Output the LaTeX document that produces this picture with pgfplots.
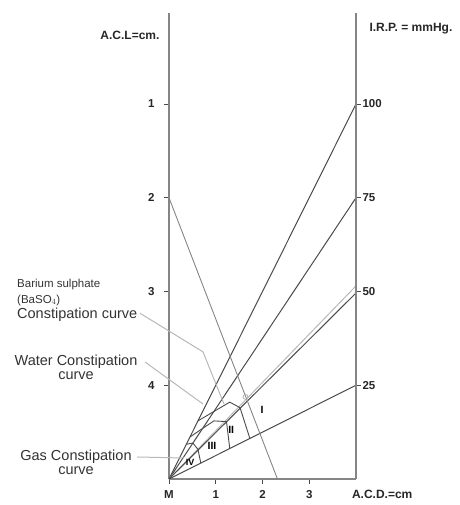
\documentclass[border=0pt]{standalone}
\usepackage{pgfplots}
\pgfplotsset{compat=1.18}
\usepackage{fontspec}
\setmainfont{Liberation Sans}
\definecolor{dk}{HTML}{4A4A4A}
\definecolor{lt}{HTML}{B8B8B8}
\definecolor{md}{HTML}{858585}
\begin{document}
\begin{tikzpicture}
\useasboundingbox (-169pt,-26pt) rectangle (290pt,479pt);
\pgfplotsset{common/.style={scale only axis, width=187pt, height=466pt,
  xmin=0, xmax=4, ymin=0, ymax=124.27, clip=false, at={(0pt,0pt)}, anchor=south west,
  axis line style={draw=md, line width=1.2pt},
  tick style={draw=dk, line width=0.8pt}, major tick length=5pt, tick align=outside,
  tick label style={font=\bfseries\fontsize{11.5}{12}\selectfont, text=black!85}}}
\begin{axis}[common,
  axis x line*=bottom, axis y line*=left,
  xtick={0,1,2,3}, xticklabels={M,1,2,3},
  ytick={25,50,75,100}, yticklabels={4,3,2,1},
  y tick label style={xshift=-6pt},
  x tick label style={yshift=-3pt}]
% fan lines from M
\addplot[dk, line width=1pt] coordinates {(0,0) (4,100)};
\addplot[dk, line width=1pt] coordinates {(0,0) (4,75)};
\addplot[lt, line width=1pt] coordinates {(0,0) (4,51.5)};
\addplot[dk, line width=1pt] coordinates {(0,0) (4,49.6)};
\addplot[dk, line width=1pt] coordinates {(0,0) (4,25)};
% diagonal
\addplot[md, line width=0.9pt] coordinates {(0,75) (2.32,0)};
% constipation curves
\addplot[dk, line width=0.9pt] coordinates {(0.62,15.5) (0.96,18.0) (1.30,20.5) (1.52,19.0) (1.73,10.8)};
\addplot[dk, line width=0.9pt] coordinates {(0.45,11.2) (0.72,13.5) (0.96,15.5) (1.23,15.3) (1.30,8.1)};
\addplot[dk, line width=0.9pt] coordinates {(0.37,9.25) (0.51,9.6) (0.62,7.9) (0.68,4.25)};
% marker circle
\addplot[lt, only marks, mark=o, mark size=2.5pt, line width=0.9pt] coordinates {(1.636,21.9)};
% leader lines
\addplot[lt, line width=1pt] coordinates {(-0.62,44.2) (0.727,33.9) (1.176,20.0)};
\addplot[lt, line width=1pt] coordinates {(-0.513,31.2) (0.727,20.0)};
\addplot[lt, line width=1pt] coordinates {(-0.684,5.87) (0.321,5.6)};
% region labels
\node[font=\bfseries\fontsize{10.5}{10}\selectfont] at (axis cs:1.99,18.4) {I};
\node[font=\bfseries\fontsize{10.5}{10}\selectfont] at (axis cs:1.33,13.1) {II};
\node[font=\bfseries\fontsize{10.5}{10}\selectfont] at (axis cs:0.92,8.8) {III};
\node[font=\bfseries\fontsize{9}{9}\selectfont] at (axis cs:0.45,4.3) {IV};
% axis titles
\node[anchor=east, font=\bfseries\fontsize{12}{12}\selectfont, text=black!85] at (axis cs:0,118.4) [xshift=-6pt] {A.C.L=cm.};
\node[anchor=west, font=\bfseries\fontsize{12}{12}\selectfont, text=black!85] at (axis cs:4,120.2) [xshift=10pt] {I.R.P. = mmHg.};
\node[font=\bfseries\fontsize{12}{12}\selectfont, text=black!85] at (axis cs:4.56,0) [yshift=-15pt] {A.C.D.=cm};
% annotations
\node[anchor=base west, inner sep=0pt, font=\fontsize{11.5}{12}\selectfont, text=black!80] at (axis cs:0,51.2) [xshift=-152pt] {Barium sulphate};
\node[anchor=base west, inner sep=0pt, font=\fontsize{11.5}{12}\selectfont, text=black!80] at (axis cs:0,46.9) [xshift=-152pt] {(BaSO$_4$)};
\node[anchor=base west, inner sep=0pt, font=\fontsize{14.5}{15}\selectfont, text=black!80] at (axis cs:0,42.9) [xshift=-152pt] {Constipation curve};
\node[align=center, inner sep=0pt, font=\fontsize{14.5}{14}\selectfont, text=black!80] at (axis cs:0,29.9) [xshift=-93pt] {Water Constipation\\curve};
\node[align=center, inner sep=0pt, font=\fontsize{14.5}{14}\selectfont, text=black!80] at (axis cs:0,4.4) [xshift=-93pt] {Gas Constipation\\curve};
\end{axis}
\begin{axis}[common, axis x line=none, axis y line*=right,
  ytick={25,50,75,100}, yticklabels={25,50,75,100},
  y tick label style={xshift=-2pt}]
\end{axis}
\end{tikzpicture}
\end{document}
